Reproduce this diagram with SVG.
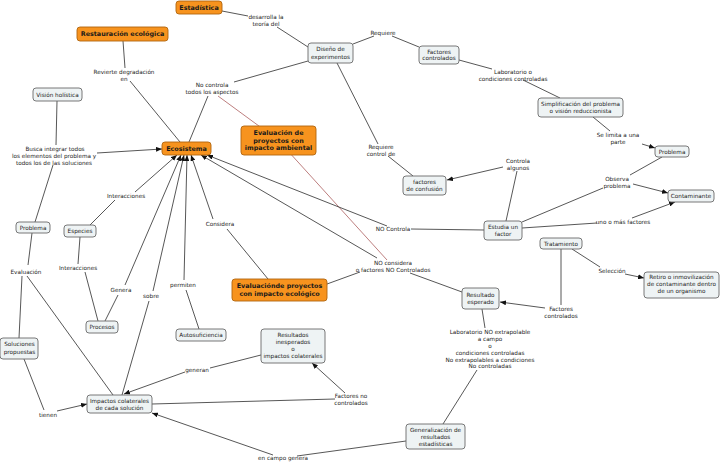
<svg xmlns="http://www.w3.org/2000/svg" width="720" height="462" viewBox="0 0 720 462">
<style>
text{font-family:"DejaVu Sans",Verdana,sans-serif;fill:#222;text-anchor:middle}
.t{font-size:5.7px}
.b{font-size:6.4px;font-weight:bold;fill:#1a1a1a}
.n rect{fill:#eef3f4;stroke:#6a6a6a;stroke-width:0.9}
.o rect{fill:#f7931e;stroke:#b0650f;stroke-width:0.9}
#connectors line{stroke:#444;stroke-width:0.9;fill:none}
#connectors line.a{marker-end:url(#arr)}
#connectors line.r{stroke:#a04848;stroke-width:0.7}
</style>
<defs>
<marker id="arr" markerUnits="userSpaceOnUse" markerWidth="6" markerHeight="5" refX="6" refY="2.5" orient="auto">
<path d="M0,0 L6,2.5 L0,5 z" fill="#111"/>
</marker>
</defs>
<rect width="720" height="462" fill="#fff"/>
<g id="connectors">
<line class="r" x1="278" y1="140" x2="218" y2="96"/>
<line class="r" x1="278" y1="140" x2="387" y2="260"/>
<line x1="222" y1="11" x2="248" y2="16"/>
<line x1="277" y1="27" x2="308" y2="47"/>
<line x1="353" y1="44" x2="374" y2="36"/>
<line x1="392" y1="36" x2="419" y2="47"/>
<line x1="459" y1="60" x2="492" y2="69"/>
<line x1="523" y1="80" x2="560" y2="98"/>
<line x1="593" y1="117" x2="610" y2="131"/>
<line class="a" x1="642" y1="144" x2="655" y2="148"/>
<line x1="662" y1="157" x2="630" y2="175"/>
<line class="a" x1="633" y1="184" x2="668" y2="193"/>
<line x1="522" y1="222" x2="603" y2="188"/>
<line x1="522" y1="228" x2="597" y2="223"/>
<line class="a" x1="632" y1="218" x2="675" y2="202"/>
<line x1="506" y1="221" x2="517" y2="171"/>
<line class="a" x1="503" y1="167" x2="447" y2="180"/>
<line x1="484" y1="230" x2="411" y2="229"/>
<line class="a" x1="387" y1="226" x2="207" y2="155"/>
<line x1="337" y1="63" x2="378" y2="144"/>
<line x1="388" y1="156" x2="413" y2="176"/>
<line x1="308" y1="61" x2="234" y2="82"/>
<line x1="208" y1="96" x2="189" y2="142"/>
<line x1="123" y1="41" x2="125" y2="68"/>
<line x1="130" y1="81" x2="180" y2="142"/>
<line x1="57" y1="101" x2="56" y2="145"/>
<line class="a" x1="97" y1="153" x2="162" y2="149"/>
<line x1="53" y1="165" x2="35" y2="222"/>
<line x1="32" y1="233" x2="28" y2="265"/>
<line x1="22" y1="276" x2="19" y2="338"/>
<line x1="27" y1="276" x2="113" y2="395"/>
<line x1="24" y1="359" x2="44" y2="410"/>
<line class="a" x1="57" y1="411" x2="87" y2="404"/>
<line x1="90" y1="225" x2="115" y2="200"/>
<line class="a" x1="135" y1="192" x2="177" y2="155"/>
<line x1="80" y1="237" x2="78" y2="264"/>
<line x1="85" y1="272" x2="98" y2="321"/>
<line x1="105" y1="321" x2="118" y2="295"/>
<line class="a" x1="125" y1="285" x2="181" y2="155"/>
<line x1="122" y1="395" x2="149" y2="301"/>
<line class="a" x1="153" y1="291" x2="184" y2="155"/>
<line x1="199" y1="329" x2="186" y2="290"/>
<line class="a" x1="184" y1="280" x2="187" y2="155"/>
<line class="a" x1="213" y1="219" x2="191" y2="155"/>
<line x1="227" y1="229" x2="268" y2="279"/>
<line x1="327" y1="284" x2="360" y2="272"/>
<line class="a" x1="377" y1="258" x2="201" y2="155"/>
<line x1="410" y1="273" x2="462" y2="292"/>
<line x1="482" y1="309" x2="485" y2="328"/>
<line x1="477" y1="370" x2="443" y2="424"/>
<line x1="561" y1="249" x2="561" y2="305"/>
<line class="a" x1="545" y1="308" x2="500" y2="302"/>
<line x1="572" y1="249" x2="600" y2="267"/>
<line class="a" x1="625" y1="274" x2="644" y2="278"/>
<line x1="261" y1="355" x2="210" y2="368"/>
<line class="a" x1="185" y1="372" x2="124" y2="394"/>
<line x1="152" y1="404" x2="335" y2="399"/>
<line class="a" x1="345" y1="393" x2="312" y2="363"/>
<line x1="406" y1="441" x2="297" y2="456"/>
<line class="a" x1="273" y1="455" x2="152" y2="413"/>
</g>
<g id="estadistica" class="o"><rect x="176" y="1" width="46" height="13" rx="3"/><text class="b" x="199" y="10.3">Estadística</text></g>
<g id="restauracion" class="o"><rect x="77" y="27" width="91" height="14" rx="3"/><text class="b" x="122.5" y="36.3">Restauración ecológica</text></g>
<g id="ecosistema" class="o"><rect x="162" y="142" width="49" height="13" rx="3"/><text class="b" x="186.5" y="150.8">Ecosistema</text></g>
<g id="eval-ambiental" class="o"><rect x="241" y="126" width="75" height="29" rx="3"/><text class="b" x="278.5" y="135.3">Evaluación de</text><text class="b" x="278.5" y="142.8">proyectos con</text><text class="b" x="278.5" y="150.3">impacto ambiental</text></g>
<g id="eval-ecologico" class="o"><rect x="232" y="279" width="95" height="22" rx="3"/><text class="b" x="279.5" y="288.3">Evaluaciónde proyectos</text><text class="b" x="279.5" y="295.8">con impacto ecológico</text></g>
<g id="diseno" class="n"><rect x="308" y="43" width="45" height="20" rx="3"/><text class="t" x="330.5" y="51.3">Diseño de</text><text class="t" x="330.5" y="58.5">experimentos</text></g>
<g id="factores-controlados" class="n"><rect x="419" y="46" width="40" height="18" rx="3"/><text class="t" x="439" y="53.8">Factores</text><text class="t" x="439" y="60.4">controlados</text></g>
<g id="simplificacion" class="n"><rect x="538" y="98" width="85" height="19" rx="3"/><text class="t" x="580.5" y="106">Simplificación del problema</text><text class="t" x="580.5" y="113">o visión reduccionista</text></g>
<g id="problema-der" class="n"><rect x="655" y="146" width="34" height="11" rx="3"/><text class="t" x="672" y="153.8">Problema</text></g>
<g id="vision" class="n"><rect x="33" y="88" width="49" height="13" rx="3"/><text class="t" x="57.5" y="96.5">Visión holística</text></g>
<g id="problema-izq" class="n"><rect x="16" y="222" width="34" height="11" rx="3"/><text class="t" x="33" y="229.6">Problema</text></g>
<g id="especies" class="n"><rect x="64" y="225" width="32" height="12" rx="3"/><text class="t" x="80" y="233">Especies</text></g>
<g id="confusion" class="n"><rect x="403" y="176" width="43" height="19" rx="3"/><text class="t" x="424.5" y="184">factores</text><text class="t" x="424.5" y="191">de confusión</text></g>
<g id="contaminante" class="n"><rect x="668" y="190" width="46" height="12" rx="3"/><text class="t" x="691" y="198">Contaminante</text></g>
<g id="estudia" class="n"><rect x="484" y="221" width="38" height="19" rx="3"/><text class="t" x="503" y="229">Estudia un</text><text class="t" x="503" y="236">factor</text></g>
<g id="tratamiento" class="n"><rect x="540" y="238" width="42" height="11" rx="3"/><text class="t" x="561" y="245.8">Tratamiento</text></g>
<g id="retiro" class="n"><rect x="644" y="272" width="75" height="26" rx="3"/><text class="t" x="681.5" y="279">Retiro o inmovilización</text><text class="t" x="681.5" y="286.3">de contaminante dentro</text><text class="t" x="681.5" y="293.3">de un organismo</text></g>
<g id="resultado-esperado" class="n"><rect x="462" y="288" width="37" height="21" rx="3"/><text class="t" x="480.5" y="297">Resultado</text><text class="t" x="480.5" y="304">esperado</text></g>
<g id="procesos" class="n"><rect x="86" y="321" width="32" height="12" rx="3"/><text class="t" x="102" y="329">Procesos</text></g>
<g id="autosuficiencia" class="n"><rect x="176" y="329" width="50" height="12" rx="3"/><text class="t" x="201" y="337">Autosuficiencia</text></g>
<g id="soluciones" class="n"><rect x="0" y="338" width="38" height="21" rx="3"/><text class="t" x="19.5" y="346">Soluciones</text><text class="t" x="19.5" y="353.5">propuestas</text></g>
<g id="impactos" class="n"><rect x="87" y="395" width="65" height="18" rx="3"/><text class="t" x="119.5" y="403">Impactos colaterales</text><text class="t" x="119.5" y="409.5">de cada solución</text></g>
<g id="resultados-inesperados" class="n"><rect x="261" y="329" width="64" height="34" rx="3"/><text class="t" x="293" y="337">Resultados</text><text class="t" x="293" y="344">inesperados</text><text class="t" x="293" y="351">o</text><text class="t" x="293" y="358">impactos colaterales</text></g>
<g id="generalizacion" class="n"><rect x="406" y="424" width="59" height="25" rx="3"/><text class="t" x="435.5" y="432">Generalización de</text><text class="t" x="435.5" y="439">resultados</text><text class="t" x="435.5" y="445.5">estadísticas</text></g>
<g id="labels">
<text class="t" x="266" y="18.5">desarrolla la</text><text class="t" x="266" y="25.5">teoría del</text>
<text class="t" x="383" y="35">Requiere</text>
<text class="t" x="513" y="74">Laboratorio o</text><text class="t" x="513" y="81">condiciones controladas</text>
<text class="t" x="618" y="137">Se limita a una</text><text class="t" x="618" y="144">parte</text>
<text class="t" x="124" y="74">Revierte degradación</text><text class="t" x="124" y="81">en</text>
<text class="t" x="212" y="87">No controla</text><text class="t" x="212" y="94">todos los aspectos</text>
<text class="t" x="55" y="150.5">Busca integrar todos</text><text class="t" x="54" y="157.5">los elementos del problema y</text><text class="t" x="54" y="164.5">todos los de las soluciones</text>
<text class="t" x="381" y="149">Requiere</text><text class="t" x="381" y="156">control de</text>
<text class="t" x="518" y="163">Controla</text><text class="t" x="518" y="169.5">algunos</text>
<text class="t" x="617" y="181">Observa</text><text class="t" x="617" y="187.5">problema</text>
<text class="t" x="126" y="198">Interacciones</text>
<text class="t" x="220" y="226">Considera</text>
<text class="t" x="393" y="231">NO Controla</text>
<text class="t" x="623" y="224">uno o más factores</text>
<text class="t" x="26" y="274">Evaluación</text>
<text class="t" x="78" y="270">Interacciones</text>
<text class="t" x="121" y="292">Genera</text>
<text class="t" x="151" y="298">sobre</text>
<text class="t" x="183" y="287">permiten</text>
<text class="t" x="393" y="265">NO considera</text><text class="t" x="393" y="272">o factores NO Controlados</text>
<text class="t" x="612" y="273">Selección</text>
<text class="t" x="561" y="311">Factores</text><text class="t" x="561" y="318">controlados</text>
<text class="t" x="490" y="334">Laboratorio NO extrapolable</text><text class="t" x="490" y="341">a campo</text><text class="t" x="490" y="348">o</text><text class="t" x="490" y="355">condiciones controladas</text><text class="t" x="490" y="361.5">No extrapolables a condiciones</text><text class="t" x="490" y="368">No controladas</text>
<text class="t" x="197" y="372">generan</text>
<text class="t" x="351" y="398">Factores no</text><text class="t" x="351" y="405">controlados</text>
<text class="t" x="48" y="417">tienen</text>
<text class="t" x="283" y="460">en campo genera</text>
</g>
</svg>
